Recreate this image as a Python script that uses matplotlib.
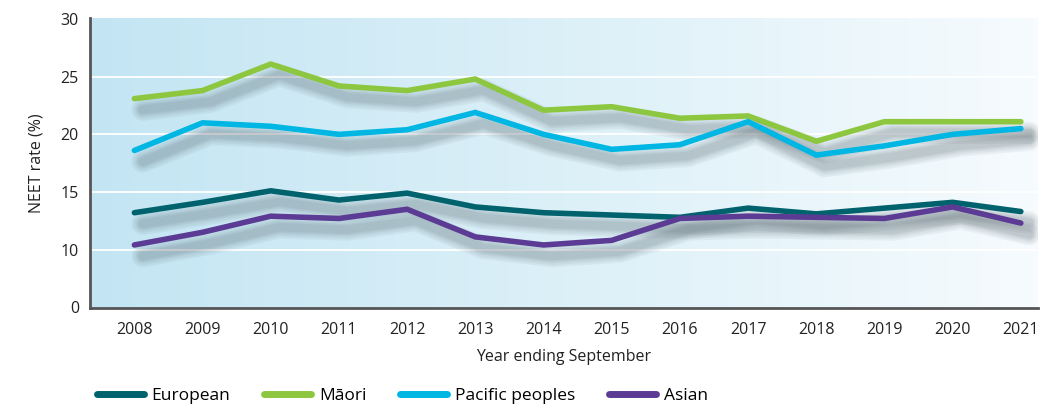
import numpy as np
import matplotlib.pyplot as plt
import matplotlib.patheffects as pe
from matplotlib.colors import LinearSegmentedColormap

years = list(range(2008, 2022))
european = [13.2, 14.1, 15.1, 14.3, 14.9, 13.7, 13.2, 13.0, 12.8, 13.6, 13.1, 13.6, 14.1, 13.3]
maori = [23.1, 23.8, 26.1, 24.2, 23.8, 24.8, 22.1, 22.4, 21.4, 21.6, 19.4, 21.1, 21.1, 21.1]
pacific = [18.6, 21.0, 20.7, 20.0, 20.4, 21.9, 20.0, 18.7, 19.1, 21.1, 18.2, 19.0, 20.0, 20.5]
asian = [10.4, 11.5, 12.9, 12.7, 13.5, 11.1, 10.4, 10.8, 12.7, 12.9, 12.8, 12.7, 13.7, 12.3]

series = [
    ("European", european, "#00626d"),
    ("Māori", maori, "#8dc63f"),
    ("Pacific peoples", pacific, "#00b6e3"),
    ("Asian", asian, "#5c3b95"),
]

# the axis is broken: the bottom tick is labelled 0 but sits at 5
y_ticks = [5, 10, 15, 20, 25, 30]
y_labels = ["0", "10", "15", "20", "25", "30"]

plt.rcParams['font.family'] = ['Open Sans', 'DejaVu Sans']

fig = plt.figure(figsize=(10.41, 4.05), dpi=100)
ax = fig.add_axes([0.0865, 0.2395, 0.9105, 0.7161])

# gradient background
cmap = LinearSegmentedColormap.from_list("bg", ["#c3e5f3", "#dcf0f8", "#f6fbfe"])
grad = np.linspace(0, 1, 256).reshape(1, -1)
ax.imshow(grad, extent=[0, 1, 0, 1], transform=ax.transAxes, cmap=cmap,
          aspect='auto', zorder=0)

for y in [10, 15, 20, 25]:
    ax.axhline(y, color='white', lw=1.3, zorder=1)

# soft, blurred-looking drop shadow built from stacked strokes
shadow = [pe.SimpleLineShadow(offset=(6, -8), shadow_color='#4f5f66', alpha=0.07, linewidth=w)
          for w in (16, 13, 10, 8, 6)]
shadow.append(pe.Normal())

for name, vals, color in series:
    ax.plot(years, vals, color=color, lw=4, label=name, zorder=3,
            solid_capstyle='round', solid_joinstyle='miter', path_effects=shadow)

ax.set_xlim(2007.35, 2021.25)
ax.set_ylim(4.93, 30.1)
ax.set_xticks(years)
ax.set_yticks(y_ticks)
ax.set_yticklabels(y_labels)
ax.tick_params(length=0, labelsize=11.5, colors='#222222', pad=8)
ax.tick_params(axis='x', pad=10)

for s in ['top', 'right']:
    ax.spines[s].set_visible(False)
for s in ['left', 'bottom']:
    ax.spines[s].set_color('#555555')
    ax.spines[s].set_linewidth(2)
    ax.spines[s].set_zorder(5)

ax.set_xlabel("Year ending September", fontsize=11.5, color='#222222', labelpad=8)
ax.set_ylabel("NEET rate (%)", fontsize=11.5, color='#222222', labelpad=12)

handles, labels = ax.get_legend_handles_labels()
leg = fig.legend(handles, labels, loc='lower left', bbox_to_anchor=(0.078, -0.036),
                 ncol=4, frameon=False, fontsize=12.5, handlelength=2.7,
                 columnspacing=1.95, handletextpad=0.45)
for line in leg.get_lines():
    line.set_linewidth(5)
    line.set_path_effects([])

fig.savefig("out.png", dpi=100)
